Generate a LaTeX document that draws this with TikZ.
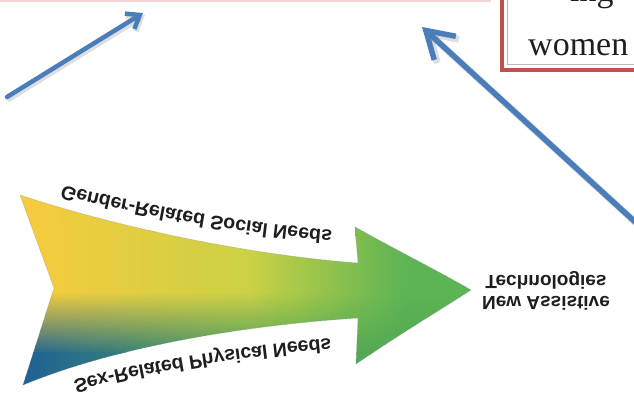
\documentclass[tikz,border=0pt]{standalone}
\usepackage{fontspec}
\usetikzlibrary{arrows.meta,decorations.text}
\newfontfamily\arrowfam{Liberation Sans}
\newfontfamily\boxfam{Liberation Serif}
\newcommand\arrowfont{\arrowfam\bfseries\fontsize{19}{21}\selectfont}
\newcommand\curvefont{\arrowfam\bfseries\fontsize{19.6}{22}\selectfont}
\newcommand\boxfont{\boxfam\fontsize{34}{40}\selectfont}
\definecolor{yel}{HTML}{F7CB3D}
\definecolor{ygr}{HTML}{CBD145}
\definecolor{grn}{HTML}{5CB454}
\definecolor{dgrn}{HTML}{52A855}
\definecolor{teal}{HTML}{3B8770}
\definecolor{blu}{HTML}{1E6194}
\definecolor{arrowblue}{HTML}{4A7EBB}
\definecolor{boxred}{HTML}{C0504D}
\definecolor{pinkline}{HTML}{F2D4D4}
\definecolor{txt}{HTML}{1E1E1E}
\begin{document}
\begin{tikzpicture}[x=1pt,y=-1pt,
  bluearrow/.style={draw=arrowblue, line cap=round},
  shadowline/.style={draw=black, opacity=0.13, line cap=round},
  boxtext/.style={anchor=base west, font=\boxfont, text=txt, inner sep=0pt},
  arrowtext/.style={font=\arrowfont, text=txt, align=center, inner sep=0pt}
]
\useasboundingbox (0,0) rectangle (634,397);
\fill[white] (0,0) rectangle (634,397);

% faint pink line of a box above
\coordinate (p0) at (-5,1);
\coordinate (p1) at (490,1);
\coordinate (p2) at (490,-5);
\draw[pinkline, line width=1.5pt] (p0) -- (p1) -- (p2);

% red framed box (cut off)
\coordinate (r0) at (502,-10);
\coordinate (r1) at (502,70);
\coordinate (r2) at (650,70);
\coordinate (q0) at (507.5,-10);
\coordinate (q1) at (507.5,64.5);
\coordinate (q2) at (650,64.5);
\draw[black!28, line width=0.8pt] (q0) -- (q1) -- (q2);
\draw[boxred, line width=3.5pt] (r0) -- (r1) -- (r2);
\node (ing) [boxtext] at (570,1.8) {ing};
\node (women) [boxtext] at (528,55) {women};

% blue arrows
\coordinate (a1s) at (7,97);
\coordinate (a1e) at (143,13);
\coordinate (a2s) at (645,231);
\coordinate (a2e) at (422,27);
\coordinate (a1ss) at (9,99);
\coordinate (a1es) at (145,15);
\coordinate (a2ss) at (647,233);
\coordinate (a2es) at (424,29);
\draw[shadowline, line width=5.5pt, -{Straight Barb[length=12pt,width=18pt]}] (a1ss) -- (a1es);
\draw[shadowline, line width=7pt, -{Straight Barb[length=26pt,width=32pt]}] (a2ss) -- (a2es);
\draw[bluearrow, line width=4.5pt, -{Straight Barb[length=12pt,width=18pt]}] (a1s) -- (a1e);
\draw[bluearrow, line width=5.5pt, -{Straight Barb[length=26pt,width=32pt]}] (a2s) -- (a2e);

% big gradient arrow
\coordinate (tl) at (20,195);
\coordinate (tj) at (358,263);
\coordinate (bt) at (355,227);
\coordinate (tip) at (471,290);
\coordinate (bb) at (356,364);
\coordinate (bj) at (358,318);
\coordinate (bl) at (23,385);
\coordinate (nt) at (54,288);
\begin{scope}
\clip (tl) .. controls (120,228) and (250,255) .. (tj) -- (bt)
  .. controls (400,252) and (440,272) .. (tip)
  .. controls (440,310) and (400,334) .. (bb) -- (bj)
  .. controls (250,325) and (120,345) .. (bl) -- (nt) -- cycle;
\foreach \i in {0,...,92} {
  \pgfmathsetmacro\xa{15+5*\i}
  \pgfmathsetmacro\xb{\xa+5.8}
  \pgfmathsetmacro\tt{(\xa-20)/450}
  \pgfmathtruncatemacro\pa{min(100,max(0,\tt*200))}
  \pgfmathtruncatemacro\pb{min(100,max(0,(\tt-0.5)*100/0.35))}
  \pgfmathtruncatemacro\pc{min(100,max(0,\tt*100/0.3))}
  \pgfmathtruncatemacro\pd{min(100,max(0,(\tt-0.3)*100/0.3))}
  \colorlet{tA}{ygr!\pa!yel}
  \colorlet{tB}{grn!\pb!tA}
  \colorlet{bA}{teal!\pc!blu}
  \colorlet{bB}{dgrn!\pd!bA}
  \fill[tB] (\xa,188) rectangle (\xb,232);
  \shade[top color=tB, bottom color=bB, middle color=tB] (\xa,230) rectangle (\xb,354);
  \fill[bB] (\xa,352) rectangle (\xb,392);
}
\end{scope}
\draw[black!45, line width=0.8pt, opacity=0.25]
  (tl) .. controls (120,228) and (250,255) .. (tj) -- (bt)
  .. controls (400,252) and (440,272) .. (tip)
  .. controls (440,310) and (400,334) .. (bb) -- (bj)
  .. controls (250,325) and (120,345) .. (bl) -- (nt) -- cycle;

% mirrored texts along the arrow
\coordinate (g0) at (63,185);
\coordinate (g1) at (365,232);
\path[decorate, decoration={text along path, mirror,
  text={|\curvefont\color{txt}|Gender-Related Social Needs}}]
  (g0) .. controls (140,204) and (245,226) .. (g1);
\coordinate (s0) at (73,381);
\coordinate (s1) at (365,336);
\path[decorate, decoration={text along path, mirror,
  text={|\curvefont\color{txt}|Sex-Related Physical Needs}}]
  (s0) .. controls (150,360) and (250,344) .. (s1);

\node (tech) [arrowtext, yscale=-1] at (546,291) {New Assistive\\Technologies};
\end{tikzpicture}
\end{document}
